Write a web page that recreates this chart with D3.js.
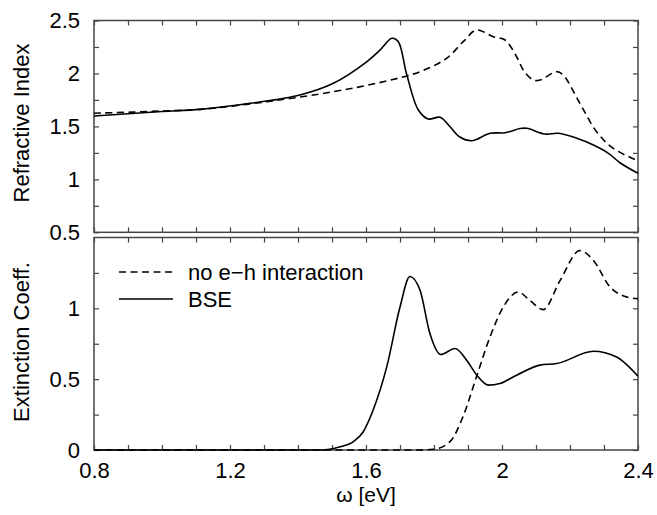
<!DOCTYPE html>
<html>
<head>
<meta charset="utf-8">
<script src="https://cdn.jsdelivr.net/npm/d3@7"></script>
<style>
  body { margin: 0; background: #fff; }
  text { font-family: 'Liberation Sans', Arial, sans-serif; fill: #000; }
</style>
</head>
<body>
<script>
// Refractive index, BSE (solid)
const nOmegaBSE = [0.8, 1.0, 1.112, 1.259, 1.406, 1.504, 1.602, 1.641, 1.676, 1.695, 1.719, 1.754, 1.783, 1.818, 1.847, 1.876, 1.911, 1.965, 2.009, 2.053, 2.073, 2.126, 2.166, 2.22, 2.269, 2.313, 2.347, 2.4]
const nBSE = [1.598, 1.64, 1.661, 1.718, 1.797, 1.907, 2.11, 2.22, 2.332, 2.30, 2.0, 1.655, 1.57, 1.586, 1.497, 1.40, 1.365, 1.435, 1.44, 1.48, 1.482, 1.428, 1.435, 1.388, 1.324, 1.246, 1.157, 1.057]

// Refractive index, no e-h interaction (dashed)
const nOmegaNoEH = [0.8, 1.0, 1.112, 1.308, 1.504, 1.651, 1.759, 1.837, 1.886, 1.925, 1.974, 2.009, 2.043, 2.065, 2.092, 2.112, 2.161, 2.18, 2.229, 2.278, 2.327, 2.4]
const nNoEH = [1.624, 1.645, 1.661, 1.733, 1.828, 1.922, 2.017, 2.143, 2.30, 2.41, 2.347, 2.316, 2.158, 2.02, 1.938, 1.938, 2.017, 1.985, 1.718, 1.45, 1.293, 1.175]

// Extinction coefficient, BSE (solid)
const kOmegaBSE = [0.8, 1.465, 1.524, 1.563, 1.592, 1.621, 1.661, 1.700, 1.729, 1.759, 1.788, 1.820, 1.862, 1.896, 1.926, 1.960, 1.994, 2.043, 2.112, 2.161, 2.269, 2.337, 2.4]
const kBSE = [0, 0, 0.023, 0.059, 0.129, 0.282, 0.587, 1.009, 1.225, 1.127, 0.822, 0.674, 0.716, 0.634, 0.528, 0.458, 0.47, 0.528, 0.599, 0.61, 0.697, 0.657, 0.521]

// Extinction coefficient, no e-h interaction (dashed)
const kOmegaNoEH = [0.8, 1.75, 1.798, 1.847, 1.886, 1.926, 1.965, 2.004, 2.048, 2.082, 2.121, 2.171, 2.229, 2.269, 2.318, 2.36, 2.4]
const kNoEH = [0, 0, 0.005, 0.059, 0.24, 0.525, 0.8, 1.01, 1.115, 1.056, 0.991, 1.197, 1.408, 1.338, 1.15, 1.085, 1.068]

// Ticks
const xTicks = [0.8, 1.2, 1.6, 2, 2.4]
const xMinorTicks = [0.9, 1.0, 1.1, 1.3, 1.4, 1.5, 1.7, 1.8, 1.9, 2.1, 2.2, 2.3]
const nTicks = [0.5, 1, 1.5, 2, 2.5]
const nMinorTicks = [0.75, 1.25, 1.75, 2.25]
const kTicks = [0, 0.5, 1]
const kMinorTicks = [0.25, 0.75, 1.25]

// Chart settings
const width = 657
const height = 515
const left = 94
const right = 638
const topPanel = { top: 20.5, bottom: 232.3 }
const bottomPanel = { top: 237.5, bottom: 450 }
const tickLen = 5
const frameColor = '#444'
const fontSize = 22

const svg = d3.select('body')
  .append('svg')
  .attr('width', width)
  .attr('height', height)

// Scales
const xScale = d3.scaleLinear().domain([0.8, 2.4]).range([left, right])
const nScale = d3.scaleLinear().domain([0.5, 2.5]).range([topPanel.bottom, topPanel.top])
const kScale = d3.scaleLinear().domain([0, 1.5]).range([bottomPanel.bottom, bottomPanel.top])

function zip(xs, ys) {
  return xs.map((x, i) => [x, ys[i]])
}

// Draw one panel frame with inward ticks
function drawFrame(yScale, panel, yTicks, yMinor, showX) {
  const g = svg.append('g')

  const axes = [
    { axis: d3.axisBottom(xScale), t: `translate(0, ${panel.bottom})`, major: xTicks, minor: xMinorTicks, label: showX, pad: 12 },
    { axis: d3.axisTop(xScale), t: `translate(0, ${panel.top})`, major: xTicks, minor: xMinorTicks, label: false, pad: 12 },
    { axis: d3.axisLeft(yScale), t: `translate(${left}, 0)`, major: yTicks, minor: yMinor, label: true, pad: 14 },
    { axis: d3.axisRight(yScale), t: `translate(${right}, 0)`, major: yTicks, minor: yMinor, label: false, pad: 14 }
  ]

  axes.forEach(a => {
    const ax = a.axis
      .tickValues(a.major.concat(a.minor))
      .tickSize(-tickLen)
      .tickPadding(a.pad)
      .tickFormat(d => (a.label && a.major.includes(d)) ? String(d) : '')
    const sel = g.append('g')
      .attr('transform', a.t)
      .call(ax)
    sel.select('.domain').remove()
    sel.selectAll('line')
      .attr('stroke', frameColor)
      .attr('stroke-width', 1.2)
    sel.selectAll('text')
      .style('font-size', `${fontSize}px`)
      .style('font-family', "'Liberation Sans', Arial, sans-serif")
      .attr('fill', '#000')
  })

  g.append('rect')
    .attr('x', left)
    .attr('y', panel.top)
    .attr('width', right - left)
    .attr('height', panel.bottom - panel.top)
    .attr('fill', 'none')
    .attr('stroke', frameColor)
    .attr('stroke-width', 1.5)
}

drawFrame(nScale, topPanel, nTicks, nMinorTicks, false)
drawFrame(kScale, bottomPanel, kTicks, kMinorTicks, true)

// Curves
const nLine = d3.line().x(d => xScale(d[0])).y(d => nScale(d[1])).curve(d3.curveCatmullRom.alpha(0.5))
const kLine = d3.line().x(d => xScale(d[0])).y(d => kScale(d[1])).curve(d3.curveMonotoneX)

const curves = [
  { d: nLine(zip(nOmegaNoEH, nNoEH)), dash: '7,4.5' },
  { d: nLine(zip(nOmegaBSE, nBSE)), dash: null },
  { d: kLine(zip(kOmegaNoEH, kNoEH)), dash: '7,4.5' },
  { d: kLine(zip(kOmegaBSE, kBSE)), dash: null }
]

svg.selectAll('path.curve')
  .data(curves)
  .enter()
  .append('path')
  .attr('class', 'curve')
  .attr('d', d => d.d)
  .attr('fill', 'none')
  .attr('stroke', '#000')
  .attr('stroke-width', 1.6)
  .attr('stroke-dasharray', d => d.dash)

// Axis titles
svg.append('text')
  .attr('transform', 'translate(29, 123) rotate(-90)')
  .attr('text-anchor', 'middle')
  .style('font-size', `${fontSize}px`)
  .text('Refractive Index')

svg.append('text')
  .attr('transform', 'translate(29, 342) rotate(-90)')
  .attr('text-anchor', 'middle')
  .style('font-size', `${fontSize}px`)
  .text('Extinction Coeff.')

svg.append('text')
  .attr('x', 366)
  .attr('y', 502)
  .attr('text-anchor', 'middle')
  .style('font-size', '21px')
  .text('ω [eV]')

// Legend
const legendItems = [
  { label: 'no e\u2212h interaction', dash: '7,4.5', y: 272 },
  { label: 'BSE', dash: null, y: 299 }
]

const legend = svg.append('g').attr('id', 'legend')
legendItems.forEach(item => {
  legend.append('line')
    .attr('x1', 119)
    .attr('x2', 173)
    .attr('y1', item.y)
    .attr('y2', item.y)
    .attr('stroke', '#000')
    .attr('stroke-width', 1.6)
    .attr('stroke-dasharray', item.dash)
  legend.append('text')
    .attr('x', 188)
    .attr('y', item.y)
    .attr('dy', '0.35em')
    .style('font-size', `${fontSize}px`)
    .text(item.label)
})
</script>
</body>
</html>
